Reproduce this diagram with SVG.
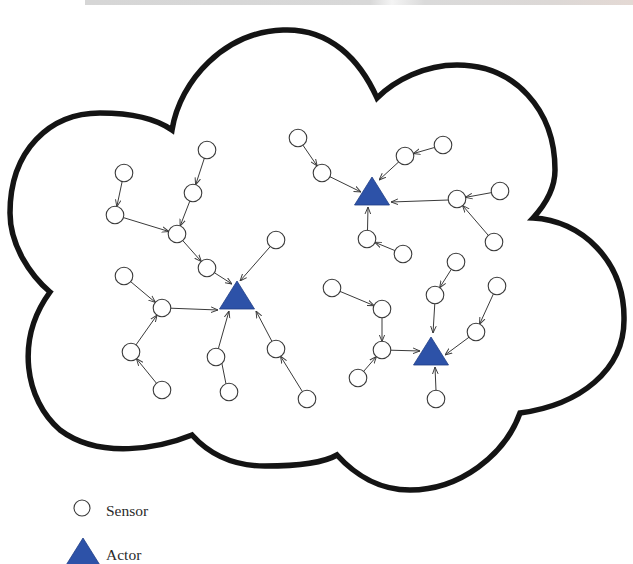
<svg xmlns="http://www.w3.org/2000/svg" width="633" height="564" viewBox="0 0 633 564">
  <defs>
    <style>
      .cloud { fill: #ffffff; stroke: #141414; stroke-width: 5.5; stroke-linejoin: miter; }
      .sensor { fill: #ffffff; stroke: #3a3a3a; stroke-width: 1.1; }
      .actor { fill: #2d52a8; stroke: #1f3d85; stroke-width: 0.8; }
      .link { stroke: #3a3a3a; stroke-width: 1; fill: none; marker-end: url(#arrow); }
      .label { font-family: "Liberation Serif", "DejaVu Serif", serif; font-size: 15.5px; fill: #2a2a2a; }
    </style>
    <marker id="arrow" viewBox="0 0 8 8" refX="8" refY="4" markerWidth="7" markerHeight="7" markerUnits="userSpaceOnUse" orient="auto">
      <path d="M0,0.8 L8,4 L0,7.2" fill="none" stroke="#3a3a3a" stroke-width="1.1"/>
    </marker>
    <!-- actor triangle, apex at origin -->
    <path id="tri" d="M0,0 L17.5,28 L-17.5,28 Z"/>
    <linearGradient id="band" x1="0" y1="0" x2="1" y2="0">
      <stop offset="0" stop-color="#d6d6d6"/>
      <stop offset="0.52" stop-color="#d8d8d8"/>
      <stop offset="0.56" stop-color="#f4f4f4"/>
      <stop offset="0.62" stop-color="#dadada"/>
      <stop offset="0.85" stop-color="#dcd8d6"/>
      <stop offset="1" stop-color="#e4d9d4"/>
    </linearGradient>
  </defs>

  <rect width="633" height="564" fill="#ffffff"/>
  <rect x="85" y="0" width="548" height="5" fill="url(#band)"/>

  <!-- cloud boundary -->
  <path class="cloud" d="M50,292
    C30,275 10,245 10,213
    C10,150 50,113 100,113
    C130,113 155,118 172,130
    C180,80 225,32 283,30
    C330,28 360,60 377,98
    C395,80 425,65 457,65
    C515,65 555,110 555,170
    C555,190 545,205 533,218
    C580,220 625,260 624,320
    C624,370 580,405 520,413
    C505,455 460,490 410,490
    C380,490 355,475 337,455
    C325,462 300,466 265,466
    C235,466 210,455 192,435
    C160,448 100,460 60,430
    C25,400 15,340 50,292 Z"/>

  <!-- connectors -->
  <g id="connectors">
    <line class="link" x1="122.2" y1="181.3" x2="116.8" y2="206.7"/>
    <line class="link" x1="204.4" y1="158.1" x2="195.6" y2="184.9"/>
    <line class="link" x1="123.1" y1="217.5" x2="168.9" y2="231.5"/>
    <line class="link" x1="189.9" y1="200.9" x2="180.1" y2="226.1"/>
    <line class="link" x1="182.6" y1="240.4" x2="201.4" y2="261.6"/>
    <line class="link" x1="214.2" y1="272.6" x2="232" y2="284"/>
    <line class="link" x1="270.4" y1="246.4" x2="240" y2="281"/>
    <line class="link" x1="130.5" y1="281.5" x2="155.5" y2="302.5"/>
    <line class="link" x1="170.5" y1="308.2" x2="218" y2="310"/>
    <line class="link" x1="135.9" y1="345.0" x2="157.1" y2="315.0"/>
    <line class="link" x1="156.6" y1="383.4" x2="136.4" y2="358.6"/>
    <line class="link" x1="218.3" y1="348.8" x2="229" y2="311"/>
    <line class="link" x1="226.0" y1="384.0" x2="219.0" y2="349.0"/>
    <line class="link" x1="272.0" y1="341.5" x2="256" y2="311"/>
    <line class="link" x1="302.5" y1="391.8" x2="280.5" y2="356.2"/>

    <line class="link" x1="302.8" y1="145.0" x2="317.2" y2="166.0"/>
    <line class="link" x1="329.7" y1="176.6" x2="361" y2="192"/>
    <line class="link" x1="434.8" y1="147.4" x2="413.2" y2="153.6"/>
    <line class="link" x1="398.8" y1="161.8" x2="379" y2="180"/>
    <line class="link" x1="448.5" y1="200" x2="391" y2="202"/>
    <line class="link" x1="491.6" y1="192.6" x2="465.4" y2="197.4"/>
    <line class="link" x1="488.5" y1="235.6" x2="462.5" y2="205.4"/>
    <line class="link" x1="367.5" y1="230.5" x2="368" y2="207"/>
    <line class="link" x1="395.2" y1="250.7" x2="374.8" y2="242.3"/>

    <line class="link" x1="451.4" y1="269.2" x2="439.6" y2="287.8"/>
    <line class="link" x1="434.8" y1="303.5" x2="433" y2="333"/>
    <line class="link" x1="339.8" y1="291.3" x2="374.2" y2="305.7"/>
    <line class="link" x1="382" y1="317.5" x2="382" y2="341.5"/>
    <line class="link" x1="390.5" y1="350.2" x2="420" y2="351"/>
    <line class="link" x1="363.5" y1="371.5" x2="376.5" y2="356.5"/>
    <line class="link" x1="493.5" y1="293.7" x2="479.5" y2="324.3"/>
    <line class="link" x1="469.2" y1="337.1" x2="445" y2="355"/>
    <line class="link" x1="436" y1="390.5" x2="435" y2="367"/>
  </g>

  <!-- actors -->
  <g id="actor-1"><use href="#tri" class="actor" x="237" y="281"/></g>
  <g id="actor-2"><use href="#tri" class="actor" x="372" y="177"/></g>
  <g id="actor-3"><use href="#tri" class="actor" x="431" y="337"/></g>

  <!-- sensors, west cluster -->
  <g id="s-a"><circle class="sensor" cx="207" cy="150" r="8.8"/></g>
  <g id="s-b"><circle class="sensor" cx="124" cy="173" r="8.8"/></g>
  <g id="s-c"><circle class="sensor" cx="193" cy="193" r="8.8"/></g>
  <g id="s-d"><circle class="sensor" cx="115" cy="215" r="8.8"/></g>
  <g id="s-e"><circle class="sensor" cx="177" cy="234" r="8.8"/></g>
  <g id="s-f"><circle class="sensor" cx="207" cy="268" r="8.8"/></g>
  <g id="s-g"><circle class="sensor" cx="276" cy="240" r="8.8"/></g>
  <g id="s-h"><circle class="sensor" cx="124" cy="276" r="8.8"/></g>
  <g id="s-i"><circle class="sensor" cx="162" cy="308" r="8.8"/></g>
  <g id="s-j"><circle class="sensor" cx="131" cy="352" r="8.8"/></g>
  <g id="s-k"><circle class="sensor" cx="162" cy="390" r="8.8"/></g>
  <g id="s-l"><circle class="sensor" cx="216" cy="357" r="8.8"/></g>
  <g id="s-m"><circle class="sensor" cx="229" cy="392" r="8.8"/></g>
  <g id="s-n"><circle class="sensor" cx="276" cy="349" r="8.8"/></g>
  <g id="s-o"><circle class="sensor" cx="307" cy="399" r="8.8"/></g>

  <!-- sensors, north-east cluster -->
  <g id="s-p"><circle class="sensor" cx="298" cy="138" r="8.8"/></g>
  <g id="s-q"><circle class="sensor" cx="322" cy="173" r="8.8"/></g>
  <g id="s-r"><circle class="sensor" cx="405" cy="156" r="8.8"/></g>
  <g id="s-s"><circle class="sensor" cx="443" cy="145" r="8.8"/></g>
  <g id="s-u"><circle class="sensor" cx="457" cy="199" r="8.8"/></g>
  <g id="s-v"><circle class="sensor" cx="500" cy="191" r="8.8"/></g>
  <g id="s-w"><circle class="sensor" cx="494" cy="242" r="8.8"/></g>
  <g id="s-x"><circle class="sensor" cx="367" cy="239" r="8.8"/></g>
  <g id="s-y"><circle class="sensor" cx="403" cy="254" r="8.8"/></g>

  <!-- sensors, south-east cluster -->
  <g id="s-a3"><circle class="sensor" cx="456" cy="262" r="8.8"/></g>
  <g id="s-b3"><circle class="sensor" cx="332" cy="288" r="8.8"/></g>
  <g id="s-c3"><circle class="sensor" cx="435" cy="295" r="8.8"/></g>
  <g id="s-d3"><circle class="sensor" cx="497" cy="286" r="8.8"/></g>
  <g id="s-e3"><circle class="sensor" cx="382" cy="309" r="8.8"/></g>
  <g id="s-f3"><circle class="sensor" cx="476" cy="332" r="8.8"/></g>
  <g id="s-g3"><circle class="sensor" cx="382" cy="350" r="8.8"/></g>
  <g id="s-h3"><circle class="sensor" cx="358" cy="378" r="8.8"/></g>
  <g id="s-i3"><circle class="sensor" cx="436" cy="399" r="8.8"/></g>

  <!-- legend -->
  <g id="legend-sensor">
    <circle class="sensor" cx="82" cy="508" r="8"/>
    <text class="label" x="106" y="516">Sensor</text>
  </g>
  <g id="legend-actor">
    <use href="#tri" class="actor" x="83" y="538"/>
    <text class="label" x="106" y="560">Actor</text>
  </g>
</svg>
